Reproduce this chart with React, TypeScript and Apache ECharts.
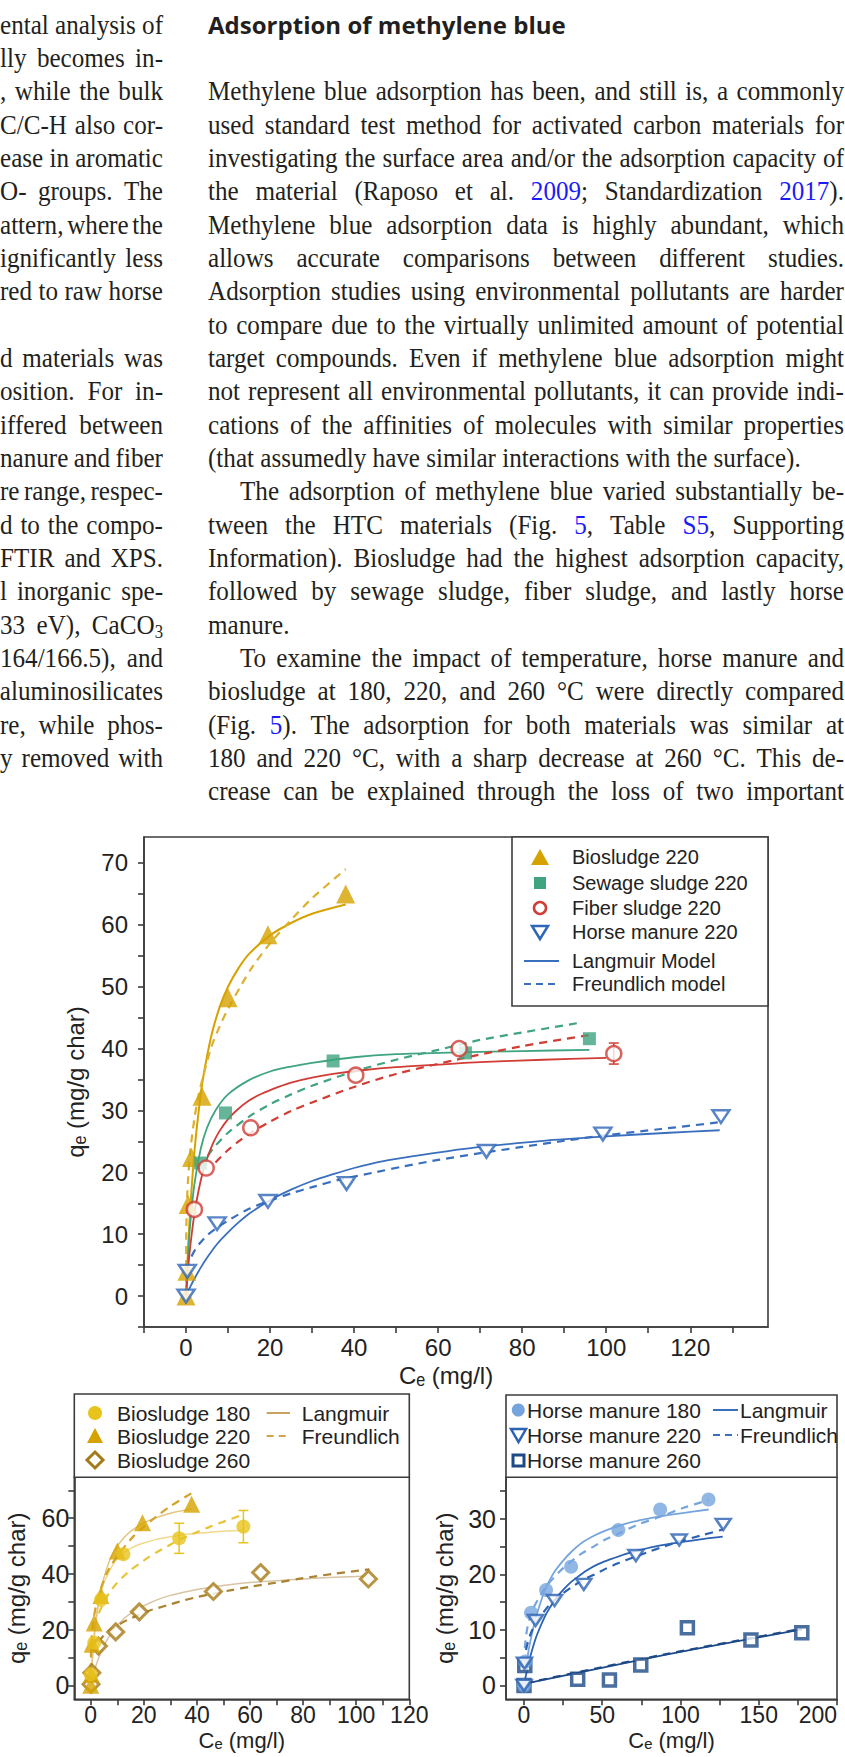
import React, { useEffect, useRef } from 'react';
import * as echarts from 'echarts';

// ---------------- Page text ----------------
const HEADING = 'Adsorption of methylene blue';
// left column (clipped by the page edge), right-aligned fragments; '' = empty line; ~3 = subscript
const LEFT_LINES = [
  'ental analysis of', 'lly becomes in-', ', while the bulk', 'C/C-H also cor-', 'ease in aromatic',
  'O- groups. The', 'attern, where the', 'ignificantly less', 'red to raw horse', '',
  'd materials was', 'osition. For in-', 'iffered between', 'nanure and fiber', 're range, respec-',
  'd to the compo-', 'FTIR and XPS.', 'l inorganic spe-', '33 eV), CaCO~3', '164/166.5), and',
  'aluminosilicates', 're, while phos-', 'y removed with',
];
// right column; {..} = link (blue). j: justified, ind: paragraph indent
const RIGHT_LINES = [
  { t: 'Methylene blue adsorption has been, and still is, a commonly', j: true, ind: false },
  { t: 'used standard test method for activated carbon materials for', j: true, ind: false },
  { t: 'investigating the surface area and/or the adsorption capacity of', j: true, ind: false },
  { t: 'the material (Raposo et al. {2009}; Standardization {2017}).', j: true, ind: false },
  { t: 'Methylene blue adsorption data is highly abundant, which', j: true, ind: false },
  { t: 'allows accurate comparisons between different studies.', j: true, ind: false },
  { t: 'Adsorption studies using environmental pollutants are harder', j: true, ind: false },
  { t: 'to compare due to the virtually unlimited amount of potential', j: true, ind: false },
  { t: 'target compounds. Even if methylene blue adsorption might', j: true, ind: false },
  { t: 'not represent all environmental pollutants, it can provide indi-', j: true, ind: false },
  { t: 'cations of the affinities of molecules with similar properties', j: true, ind: false },
  { t: '(that assumedly have similar interactions with the surface).', j: false, ind: false },
  { t: 'The adsorption of methylene blue varied substantially be-', j: true, ind: true },
  { t: 'tween the HTC materials (Fig. {5}, Table {S5}, Supporting', j: true, ind: false },
  { t: 'Information). Biosludge had the highest adsorption capacity,', j: true, ind: false },
  { t: 'followed by sewage sludge, fiber sludge, and lastly horse', j: true, ind: false },
  { t: 'manure.', j: false, ind: false },
  { t: 'To examine the impact of temperature, horse manure and', j: true, ind: true },
  { t: 'biosludge at 180, 220, and 260 °C were directly compared', j: true, ind: false },
  { t: '(Fig. {5}). The adsorption for both materials was similar at', j: true, ind: false },
  { t: '180 and 220 °C, with a sharp decrease at 260 °C. This de-', j: true, ind: false },
  { t: 'crease can be explained through the loss of two important', j: true, ind: false },
];

// ---------------- Chart texts ----------------
const MAIN_LEGEND = ['Biosludge 220', 'Sewage sludge 220', 'Fiber sludge 220', 'Horse manure 220', 'Langmuir Model', 'Freundlich model'];
const BIO_LEGEND = ['Biosludge 180', 'Biosludge 220', 'Biosludge 260', 'Langmuir', 'Freundlich'];
const HM_LEGEND = ['Horse manure 180', 'Horse manure 220', 'Horse manure 260', 'Langmuir', 'Freundlich'];
const Y_NAME = 'qₑ (mg/g char)';
const X_NAME = 'Cₑ (mg/l)';

// ---------------- Axis ticks ----------------
const MAIN_X_TICKS = [-10, 0, 10, 20, 30, 40, 50, 60, 70, 80, 90, 100, 110, 120, 130];
const MAIN_X_LABELS = [0, 20, 40, 60, 80, 100, 120];
const MAIN_Y_TICKS = [-5, 0, 5, 10, 15, 20, 25, 30, 35, 40, 45, 50, 55, 60, 65, 70];
const MAIN_Y_LABELS = [0, 10, 20, 30, 40, 50, 60, 70];
const BIO_X_TICKS = [0, 10, 20, 30, 40, 50, 60, 70, 80, 90, 100, 110, 120];
const BIO_X_LABELS = [0, 20, 40, 60, 80, 100, 120];
const BIO_Y_TICKS = [0, 10, 20, 30, 40, 50, 60, 70];
const BIO_Y_LABELS = [0, 20, 40, 60];
const HM_X_TICKS = [0, 25, 50, 75, 100, 125, 150, 175, 200];
const HM_X_LABELS = [0, 50, 100, 150, 200];
const HM_Y_TICKS = [0, 5, 10, 15, 20, 25, 30, 35];
const HM_Y_LABELS = [0, 10, 20, 30];

// ---------------- Data: main chart (220 °C) ----------------
const BIO220 = [[0, 0], [0.2, 4], [0.5, 14.8], [1.3, 22.4], [3.8, 32.3], [10, 48.2], [19.5, 58.4], [38, 65]];
const SEW220 = [[3.5, 21.5], [9.4, 29.6], [35, 38], [66.5, 39.3], [96, 41.6]];
const FIB220 = [[2, 14], [4.8, 20.7], [15.4, 27.2], [40.4, 35.7], [65, 40], [101.8, 39.2]];
const HM220 = [[0, 0], [0.3, 4], [7.4, 11.7], [19.5, 15.3], [38.2, 18.2], [71.5, 23.4], [99.2, 26.2], [127.3, 29]];
const FIB220_ERR = [[101.8, 37.5, 40.9]];

const BIO220_L = [[0, 0], [0.5, 7.8], [1, 14], [2, 23.3], [3, 29.8], [4, 35], [6, 42], [8, 46.7], [10, 50], [12.5, 53], [15, 55.3], [20, 58.3], [25, 60.3], [30, 61.8], [38, 63.3]];
const BIO220_F = [[0, 0], [0.05, 9.6], [0.1, 11.8], [0.3, 16.5], [0.5, 19], [1, 23.4], [2, 28.7], [3, 32.5], [4, 35.3], [6, 40.2], [8, 43.6], [10, 46.4], [13, 50.1], [16, 53.4], [20, 57], [25, 60.8], [30, 64.3], [38, 69]];
const SEW220_L = [[0, 0], [0.5, 6.8], [1, 11.7], [2, 18.1], [3.5, 23.8], [5, 27.2], [7, 30], [10, 32.6], [15, 34.9], [20, 36.3], [25, 37.1], [30, 37.7], [40, 38.6], [50, 39.1], [65, 39.4], [80, 39.6], [96, 39.8]];
const SEW220_F = [[3.5, 20.7], [5, 22.5], [7, 24.3], [10, 26.4], [15, 29], [20, 31], [25, 32.6], [30, 34], [40, 36.3], [50, 38.2], [60, 39.8], [70, 41.4], [80, 42.6], [93, 44.1]];
const FIB220_L = [[0, 0], [0.5, 4.4], [1, 8], [2, 13.3], [3, 17.1], [4, 20], [5, 22.2], [6.5, 24.8], [8, 26.7], [10, 28.6], [12, 30], [15, 31.6], [18, 32.7], [22, 33.8], [25, 34.5], [30, 35.3], [35, 35.9], [42, 36.5], [50, 37], [60, 37.4], [70, 37.8], [85, 38.2], [100, 38.5]];
const FIB220_F = [[7, 21.6], [10, 23.6], [12.5, 25], [15, 26.2], [20, 28.2], [25, 29.9], [30, 31.3], [40, 33.8], [50, 35.9], [65, 38.3], [80, 40.4], [97, 42.3]];
const HM220_L = [[0.5, 0.8], [1, 1.5], [2, 2.8], [3.5, 4.6], [5, 6.2], [7.5, 8.5], [10, 10.3], [12.5, 11.9], [15, 13.3], [20, 15.5], [25, 17.2], [30, 18.6], [35, 19.7], [40, 20.7], [47, 21.8], [55, 22.7], [62, 23.4], [70, 24.1], [85, 25.1], [100, 25.8], [115, 26.4], [127, 26.8]];
const HM220_F = [[1.3, 6.4], [2, 7.3], [3, 8.3], [5, 9.8], [7.5, 11.1], [10, 12.2], [12, 13], [15, 14.1], [19.5, 15.3], [25, 16.6], [30, 17.6], [37, 18.9], [45, 20], [52, 21], [60, 22], [70, 23.1], [80, 24.1], [90, 25.1], [100, 26], [113, 27], [127, 28.1]];

// ---------------- Data: biosludge temperatures ----------------
const BIO180 = [[0, 4], [1.3, 15.3], [3.9, 30.8], [12.3, 47.1], [33.3, 52.8], [57.5, 57]];
const BIO260 = [[0.1, 0.4], [0.4, 4.5], [2.9, 14.1], [9.4, 19.2], [18.3, 26.4], [46.2, 33.7], [64, 40.5], [104.6, 38.2]];
const BIO180_ERR = [[57.5, 51.2, 62.8], [33.3, 47.4, 58.2]];
const BIO180_L = [[0, 0], [0.5, 8.5], [1.3, 18.9], [2.5, 27.3], [3.9, 33.5], [5, 36.9], [6, 39], [7.5, 41.9], [9, 44.3], [12.3, 47.6], [15, 49.2], [18, 50.5], [22, 51.7], [25, 52.5], [29, 53.2], [33, 53.8], [39, 54.5], [45, 55], [51, 55.4], [57.5, 55.7]];
const BIO180_F = [[3, 25.9], [4, 28], [5, 30], [6, 31.8], [7.5, 33.9], [9, 35.8], [12.3, 39.1], [15, 41.4], [18, 43.5], [21, 45.5], [25, 47.9], [29, 50], [33, 52.1], [39, 54.6], [45, 57], [51, 59.1], [57, 61.2]];
const BIO260_L = [[0, 0], [1, 3.9], [2, 7.2], [3, 9.9], [4.5, 13.3], [6, 16.1], [7.5, 18.4], [9.4, 20.8], [12, 23.5], [14, 25.1], [18, 27.6], [22, 29.5], [25, 30.7], [30, 32.3], [35, 33.4], [40, 34.4], [46, 35.3], [53, 36.2], [60, 36.9], [70, 37.6], [80, 38.2], [92, 38.8], [105, 39.3]];
const BIO260_F = [[3, 15.6], [4.5, 17.5], [6, 18.9], [7.5, 20], [9.4, 21], [12, 22.6], [14, 23.6], [18.3, 25.4], [22, 26.8], [25, 27.7], [30, 29.1], [35, 30.5], [40, 31.7], [46, 32.9], [53, 34.2], [60, 35.4], [70, 36.9], [80, 38.5], [92, 40.1], [105, 41.7]];

// ---------------- Data: horse manure temperatures ----------------
const HM180 = [[0, 0], [0.8, 4.3], [4.5, 13.1], [14.1, 17.2], [30.1, 21.4], [60.3, 28], [87, 31.7], [117.9, 33.5]];
const HM260 = [[0, 0], [0.5, 3.6], [34.3, 1.1], [54.6, 1.0], [74.6, 3.7], [104.4, 10.4], [145, 8.2], [177.5, 9.5]];
const HM180_L = [[1.5, 3.4], [3, 6.4], [5, 9.2], [6.5, 11], [8, 12.6], [11, 15.3], [14, 17.6], [17, 19.3], [20, 20.7], [25, 22.5], [30, 24], [37, 25.7], [45, 27], [52, 27.9], [60, 28.7], [70, 29.5], [80, 30.1], [90, 30.6], [100, 31], [118, 31.7]];
const HM180_F = [[0.5, 6.7], [1.5, 9.3], [3, 11.5], [4.5, 12.7], [6.5, 14.2], [9, 15.5], [11.5, 16.7], [14, 17.8], [18, 19.1], [22, 20.3], [26, 21.4], [30, 22.3], [37, 23.8], [45, 25.1], [52, 26.3], [60, 27.3], [72, 28.9], [87, 30.4], [102, 32], [118, 33.4]];
const HM260_L = [[0, 0.3], [45, 2.9], [90, 5.5], [135, 7.9], [177.5, 10.1]];
const HM260_F = [[1, 0.4], [45, 3.0], [90, 5.6], [135, 8.0], [177.5, 10.2]];

// ---------------- Styles ----------------
const INK = '#231f20';
const LINK = '#1b1bf5';
const FRAME = '#3c3c3c';
const SANS = '"Liberation Sans", Arial, Helvetica, sans-serif';
const SERIF = '"Liberation Serif", "Times New Roman", serif';
const C = {
  gold: '#d6a200', goldDash: '#ddb030',
  green: '#3fa47f', red: '#cf3d35', blue: '#2f67b8', blueLine: '#3a6fbd',
  yel: '#e8c31c', yelPale: '#efd98a', goldPale: '#e3c57e', brown: '#a57a16', brownPale: '#d8c3a2', brownDash: '#a98232',
  hmLight: '#76a5de', hm220: '#2b62b3', hm260: '#1d4a86',
};
const INV_TRI = 'path://M0,0L20,0L10,17Z';

function buildText(): any[] {
  const els: any[] = [];
  const ctx = document.createElement('canvas').getContext('2d') as CanvasRenderingContext2D;
  const FS = 27, SX = 0.93, SUB = 18;
  const meas = (s: string, fs: number) => { ctx.font = `${fs}px ${SERIF}`; return ctx.measureText(s).width; };
  type Seg = { s: string; blue?: boolean; sub?: boolean };
  const parse = (w: string): Seg[] => {
    const segs: Seg[] = [];
    const re = /\{([^}]*)\}|~(\w)|([^{~]+)/g;
    let m: RegExpExecArray | null;
    while ((m = re.exec(w))) {
      if (m[1] !== undefined) segs.push({ s: m[1], blue: true });
      else if (m[2] !== undefined) segs.push({ s: m[2], sub: true });
      else segs.push({ s: m[3] });
    }
    return segs;
  };
  const segW = (g: Seg) => meas(g.s, g.sub ? SUB : FS) * SX;
  const wordW = (w: string) => parse(w).reduce((a, g) => a + segW(g), 0);
  const place = (w: string, x: number, y: number) => {
    let cx = x;
    for (const g of parse(w)) {
      els.push({
        type: 'text', x: cx, y: g.sub ? y + 7 : y, scaleX: SX, silent: true,
        style: { text: g.s, fontFamily: SERIF, fontSize: g.sub ? SUB : FS, fill: g.blue ? LINK : INK, align: 'left', verticalAlign: 'middle' },
      });
      cx += segW(g);
    }
  };
  const lineY = (i: number) => 25 + 33.33 * i;
  const space = meas(' ', FS) * SX;

  // left column: right edge at 163, clipped at 0
  LEFT_LINES.forEach((t, i) => {
    if (!t) return;
    const ws = t.split(' ');
    const widths = ws.map(wordW);
    const sum = widths.reduce((a, b) => a + b, 0);
    let gap = ws.length > 1 ? (163 - sum) / (ws.length - 1) : 0;
    if (gap > 22) gap = space * 1.15;
    if (gap < 2.5) gap = 2.5;
    let x = 163 - sum - gap * (ws.length - 1);
    ws.forEach((w, k) => { place(w, x, lineY(i)); x += widths[k] + gap; });
  });

  // right column: 208..844
  const X0 = 208, X1 = 844;
  RIGHT_LINES.forEach((ln, i) => {
    const ws = ln.t.split(' ');
    const widths = ws.map(wordW);
    const sum = widths.reduce((a, b) => a + b, 0);
    const start = X0 + (ln.ind ? 32 : 0);
    let gap = space;
    if (ln.j && ws.length > 1) gap = Math.max(2, (X1 - start - sum) / (ws.length - 1));
    let x = start;
    ws.forEach((w, k) => { place(w, x, lineY(i + 2)); x += widths[k] + gap; });
  });

  // heading
  ctx.font = `bold 23px "Open Sans", "Noto Sans", sans-serif`;
  const hw = ctx.measureText(HEADING).width;
  els.push({
    type: 'text', x: 208, y: 25, scaleX: 358 / hw, silent: true,
    style: { text: HEADING, fontFamily: '"Open Sans", "Noto Sans", sans-serif', fontWeight: 'bold', fontSize: 23, fill: INK, align: 'left', verticalAlign: 'middle' },
  });
  return els;
}

function legendText(text: string, x: number, y: number, fs: number) {
  return { type: 'text', x, y, silent: true, z: 20, style: { text, fontFamily: SANS, fontSize: fs, fill: '#222', align: 'left', verticalAlign: 'middle' } };
}
function seg(x1: number, y1: number, x2: number, y2: number, color: string, dashed: boolean) {
  return { type: 'line', silent: true, z: 20, shape: { x1, y1, x2, y2 }, style: { stroke: color, lineWidth: 2, lineDash: dashed ? [7, 5] : null } };
}
function box(x: number, y: number, w: number, h: number) {
  return { type: 'rect', silent: true, z: 15, shape: { x, y, width: w, height: h }, style: { fill: '#fff', stroke: FRAME, lineWidth: 1.6 } };
}

function buildLegends(): any[] {
  const e: any[] = [];
  // main
  e.push(box(512, 837, 256, 169));
  e.push({ type: 'polygon', silent: true, z: 20, shape: { points: [[531, 865], [549, 865], [540, 849]] }, style: { fill: C.gold } });
  e.push({ type: 'rect', silent: true, z: 20, shape: { x: 534, y: 877, width: 12, height: 12 }, style: { fill: C.green } });
  e.push({ type: 'circle', silent: true, z: 20, shape: { cx: 540, cy: 908, r: 6 }, style: { fill: '#fff', stroke: C.red, lineWidth: 2.5 } });
  e.push({ type: 'polygon', silent: true, z: 20, shape: { points: [[532, 926], [548, 926], [540, 939]] }, style: { fill: '#fff', stroke: C.blue, lineWidth: 2.5 } });
  e.push(seg(524, 961, 559, 961, C.blueLine, false));
  e.push(seg(524, 984, 559, 984, C.blueLine, true));
  const my = [857, 883, 908, 932, 961, 984];
  MAIN_LEGEND.forEach((t, i) => e.push(legendText(t, 572, my[i], 20)));

  // biosludge
  e.push(box(74.3, 1394, 335, 83.3));
  e.push({ type: 'circle', silent: true, z: 20, shape: { cx: 95, cy: 1413, r: 7 }, style: { fill: C.yel } });
  e.push({ type: 'polygon', silent: true, z: 20, shape: { points: [[87, 1443], [103, 1443], [95, 1428]] }, style: { fill: C.gold } });
  e.push({ type: 'polygon', silent: true, z: 20, shape: { points: [[95, 1452], [103, 1460], [95, 1468], [87, 1460]] }, style: { fill: '#fff', stroke: C.brown, lineWidth: 3 } });
  const by = [1413, 1436, 1460];
  BIO_LEGEND.slice(0, 3).forEach((t, i) => e.push(legendText(t, 117, by[i], 21)));
  e.push(seg(266.7, 1413, 290, 1413, '#c9a25e', false));
  e.push(seg(266.7, 1436, 290, 1436, '#d0a448', true));
  e.push(legendText(BIO_LEGEND[3], 301.7, 1413, 21));
  e.push(legendText(BIO_LEGEND[4], 301.7, 1436, 21));

  // horse manure
  e.push(box(506, 1395, 331, 82.3));
  e.push({ type: 'circle', silent: true, z: 20, shape: { cx: 518.3, cy: 1410, r: 6.5 }, style: { fill: C.hmLight } });
  e.push({ type: 'polygon', silent: true, z: 20, shape: { points: [[511, 1429], [526, 1429], [518.5, 1442]] }, style: { fill: '#fff', stroke: C.hm220, lineWidth: 2.5 } });
  e.push({ type: 'rect', silent: true, z: 20, shape: { x: 513, y: 1455, width: 11, height: 11 }, style: { fill: '#fff', stroke: C.hm260, lineWidth: 3 } });
  const hy = [1410, 1435, 1460];
  HM_LEGEND.slice(0, 3).forEach((t, i) => e.push(legendText(t, 527, hy[i], 21)));
  e.push(seg(713, 1410, 738, 1410, C.blueLine, false));
  e.push(seg(713, 1435, 738, 1435, C.blueLine, true));
  e.push(legendText(HM_LEGEND[3], 740, 1410, 21));
  e.push(legendText(HM_LEGEND[4], 740, 1435, 21));
  return e;
}

function valueAxis(idx: number, min: number, max: number, ticks: number[], labels: number[], fs: number, margin: number, name: string, nameGap: number, nfs: number, extra: any = {}) {
  return {
    type: 'value', gridIndex: idx, min, max,
    name, nameLocation: 'middle', nameGap, nameMoveOverlap: false,
    nameTextStyle: { fontFamily: SANS, fontSize: nfs, color: '#222', ...(extra.nameTextStyle || {}) },
    axisLine: { show: true, onZero: false, lineStyle: { color: FRAME, width: 1.6 } },
    axisTick: { show: true, length: 6, customValues: ticks, lineStyle: { color: FRAME, width: 1.6 } },
    axisLabel: { show: true, customValues: labels, fontFamily: SANS, fontSize: fs, color: '#222', margin, showMinLabel: true, showMaxLabel: true, ...(extra.axisLabel || {}) },
    splitLine: { show: false },
  };
}

function line(data: number[][], color: string, dashed: boolean, width: number, ai: number) {
  return {
    type: 'line', data, xAxisIndex: ai, yAxisIndex: ai, smooth: 0.3, symbol: 'none', silent: true, z: 2,
    lineStyle: { color, width, type: dashed ? [8, 6] : 'solid' },
  };
}
function scat(data: number[][], symbol: string, size: any, itemStyle: any, ai: number) {
  return { type: 'scatter', data, xAxisIndex: ai, yAxisIndex: ai, symbol, symbolSize: size, symbolKeepAspect: true, itemStyle, z: 5, silent: true };
}
function errBars(data: number[][], color: string, ai: number) {
  return {
    type: 'custom', data, xAxisIndex: ai, yAxisIndex: ai, z: 4, silent: true,
    renderItem: (params: any, api: any) => {
      const x = api.value(0);
      const lo = api.coord([x, api.value(1)]);
      const hi = api.coord([x, api.value(2)]);
      const st = { stroke: color, lineWidth: 1.5 };
      return {
        type: 'group', children: [
          { type: 'line', shape: { x1: lo[0], y1: lo[1], x2: hi[0], y2: hi[1] }, style: st },
          { type: 'line', shape: { x1: hi[0] - 5, y1: hi[1], x2: hi[0] + 5, y2: hi[1] }, style: st },
          { type: 'line', shape: { x1: lo[0] - 5, y1: lo[1], x2: lo[0] + 5, y2: lo[1] }, style: st },
        ],
      };
    },
  };
}

function buildOption(): any {
  const gridBase = { show: true, borderColor: FRAME, borderWidth: 1.6, containLabel: false, outerBoundsMode: 'none' };
  return {
    animation: false,
    backgroundColor: '#ffffff',
    grid: [
      { ...gridBase, left: 144, top: 837, width: 624, height: 490 },
      { ...gridBase, left: 74.3, top: 1477.3, width: 335, height: 222 },
      { ...gridBase, left: 506, top: 1477.3, width: 331, height: 222 },
    ],
    xAxis: [
      valueAxis(0, -10, 138.5, MAIN_X_TICKS, MAIN_X_LABELS, 24, 8, X_NAME, 36, 24, { nameTextStyle: { padding: [0, 20, 0, 0] } }),
      valueAxis(1, -6.2, 120, BIO_X_TICKS, BIO_X_LABELS, 23, 4, X_NAME, 30, 22),
      valueAxis(2, -11.5, 200, HM_X_TICKS, HM_X_LABELS, 23, 4, X_NAME, 30, 22, { axisLabel: { alignMaxLabel: 'right' } }),
    ],
    yAxis: [
      valueAxis(0, -5, 74.2, MAIN_Y_TICKS, MAIN_Y_LABELS, 24, 16, Y_NAME, 57, 24),
      valueAxis(1, -5, 74.7, BIO_Y_TICKS, BIO_Y_LABELS, 25, 5, Y_NAME, 46, 24),
      valueAxis(2, -2.5, 37.5, HM_Y_TICKS, HM_Y_LABELS, 25, 10, Y_NAME, 50, 24),
    ],
    series: [
      // main chart
      line(BIO220_L, C.gold, false, 2, 0),
      line(BIO220_F, C.goldDash, true, 2.2, 0),
      line(SEW220_L, C.green, false, 1.8, 0),
      line(SEW220_F, C.green, true, 2.2, 0),
      line(FIB220_L, C.red, false, 1.8, 0),
      line(FIB220_F, C.red, true, 2.2, 0),
      line(HM220_L, C.blueLine, false, 1.8, 0),
      line(HM220_F, C.blueLine, true, 2.2, 0),
      errBars(FIB220_ERR, C.red, 0),
      scat(BIO220, 'triangle', 19, { color: C.gold }, 0),
      scat(SEW220, 'rect', 13, { color: C.green }, 0),
      scat(FIB220, 'circle', 15, { color: '#fff', borderColor: C.red, borderWidth: 2.5 }, 0),
      scat(HM220, INV_TRI, [17, 15], { color: '#fff', borderColor: C.blue, borderWidth: 2.5 }, 0),
      // biosludge
      line(BIO180_L, C.yelPale, false, 1.5, 1),
      line(BIO180_F, '#e8c43a', true, 2.2, 1),
      line(BIO220_L, C.goldPale, false, 1.5, 1),
      line(BIO220_F, '#d3a32a', true, 2.2, 1),
      line(BIO260_L, C.brownPale, false, 1.5, 1),
      line(BIO260_F, C.brownDash, true, 2.2, 1),
      errBars(BIO180_ERR, C.yel, 1),
      scat(BIO260, 'diamond', 16, { color: '#fff', borderColor: C.brown, borderWidth: 3 }, 1),
      scat(BIO220, 'triangle', 17, { color: C.gold }, 1),
      scat(BIO180, 'circle', 14, { color: C.yel }, 1),
      // horse manure
      line(HM180_L, C.hmLight, false, 1.8, 2),
      line(HM180_F, C.hmLight, true, 2.2, 2),
      line(HM220_L, C.hm220, false, 1.8, 2),
      line(HM220_F, C.hm220, true, 2.2, 2),
      line(HM260_L, C.hm260, false, 1.8, 2),
      line(HM260_F, C.hm260, true, 2.2, 2),
      scat(HM260, 'rect', 12, { color: '#fff', borderColor: C.hm260, borderWidth: 3.5 }, 2),
      scat(HM180, 'circle', 14, { color: C.hmLight }, 2),
      scat(HM220, INV_TRI, [15, 13], { color: '#fff', borderColor: C.hm220, borderWidth: 2.5 }, 2),
    ],
    graphic: { elements: [...buildText(), ...buildLegends()] },
  };
}

export default function App() {
  const ref = useRef<HTMLDivElement>(null);
  useEffect(() => {
    if (!ref.current) return;
    const chart = echarts.init(ref.current, null, { renderer: 'svg', width: 845, height: 1757 });
    chart.setOption(buildOption());
    return () => chart.dispose();
  }, []);
  return <div ref={ref} style={{ position: 'absolute', left: 0, top: 0, width: 845, height: 1757, background: '#fff' }} />;
}
